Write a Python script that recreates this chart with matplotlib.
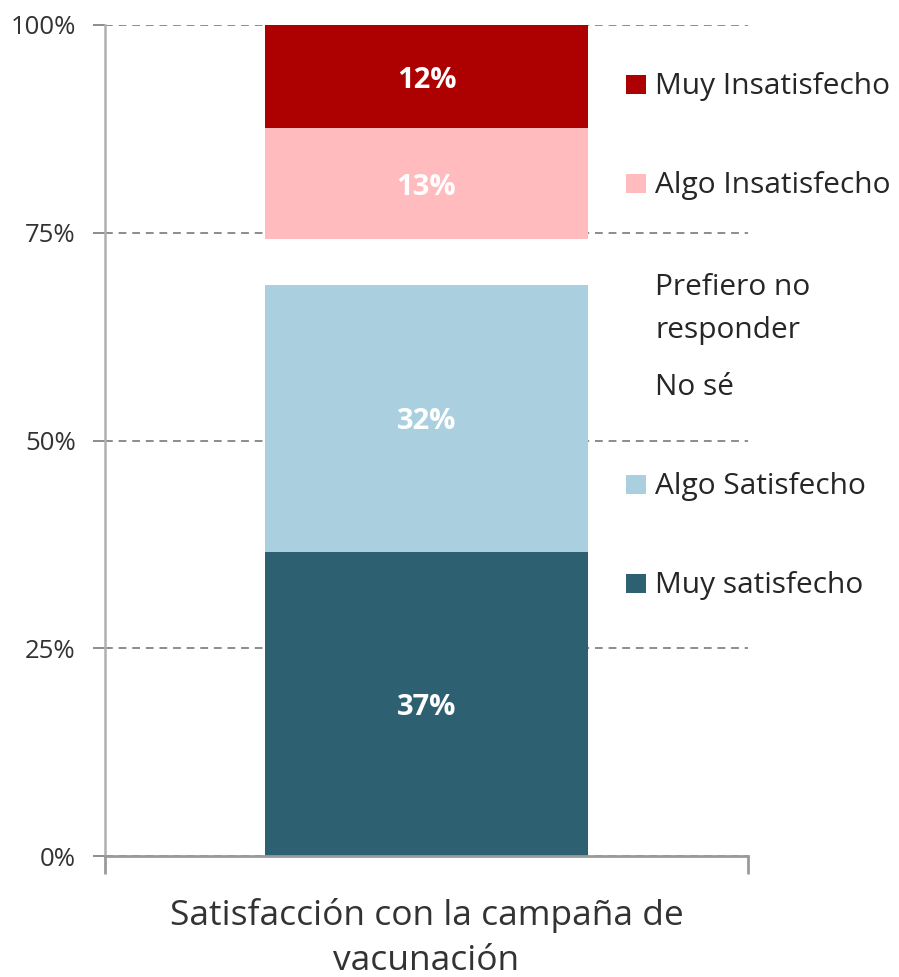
import matplotlib.pyplot as plt
from matplotlib.patches import Rectangle

plt.rcParams['font.family'] = ['Open Sans', 'DejaVu Sans']

# Encuesta: satisfacción con la campaña de vacunación (% de respuestas)
categoria = 'Satisfacción con la campaña de\nvacunación'
respuestas = ['Muy satisfecho', 'Algo Satisfecho', 'No sé', 'Prefiero no\nresponder',
              'Algo Insatisfecho', 'Muy Insatisfecho']
porcentajes = [36.6, 32.1, 3.1, 2.4, 13.4, 12.4]
colores = ['#2d6071', '#aacfdf', '#ffffff', '#ffffff', '#ffbbbd', '#ad0000']
mostrar_etiqueta = [True, True, False, False, True, True]

fig = plt.figure(figsize=(8.99, 9.77), dpi=100)
ax = fig.add_axes([105 / 899, 1 - 856 / 977, 643 / 899, 831 / 977])

base = 0
for resp, val, col, etiq in zip(respuestas, porcentajes, colores, mostrar_etiqueta):
    ax.bar(0, val, bottom=base, width=0.502, color=col, zorder=2)
    if etiq:
        ax.text(0, base + val / 2, f'{val:.0f}%', ha='center', va='center_baseline',
                color='white', fontsize=21, fontweight='bold', zorder=3)
    base += val

ax.set_xlim(-0.5, 0.5)
ax.set_ylim(0, 100)
ax.set_yticks([0, 25, 50, 75, 100], labels=['0%', '25%', '50%', '75%', '100%'])
ax.yaxis.grid(True, linestyle=(0, (4, 3)), color='#8c8c8c', linewidth=1.4, zorder=1)
ax.tick_params(axis='y', length=9, width=1.4, color='#8c8c8c', labelsize=18.5,
               labelcolor='#333333', pad=12)

# ticks del eje de categorías en los bordes, etiqueta centrada
ax.set_xticks([-0.5, 0.5], labels=['', ''])
ax.set_xticks([0], labels=[categoria], minor=True)
ax.tick_params(axis='x', which='major', length=13, width=2, color='#9a9a9a')
ax.tick_params(axis='x', which='minor', length=0, labelsize=25.5, labelcolor='#333333', pad=30)
for lbl in ax.get_xticklabels(minor=True):
    lbl.set_linespacing(1.45)

for s in ['top', 'right']:
    ax.spines[s].set_visible(False)
ax.spines['left'].set_color('#b0b0b0')
ax.spines['left'].set_linewidth(1.8)
ax.spines['bottom'].set_color('#9a9a9a')
ax.spines['bottom'].set_linewidth(2)

# leyenda a la derecha, de arriba hacia abajo (líneas base en píxeles)
baselines = {'Muy Insatisfecho': 94, 'Algo Insatisfecho': 193,
             'Prefiero no\nresponder': 295, 'No sé': 395,
             'Algo Satisfecho': 494, 'Muy satisfecho': 593}
for resp, col in zip(respuestas, colores):
    yb = baselines[resp]
    for i, linea in enumerate(resp.split('\n')):
        fig.text(655 / 899, 1 - (yb + 43 * i) / 977, linea, fontsize=21.5,
                 color='#262626', ha='left', va='baseline')
    fig.patches.append(Rectangle((626 / 899, 1 - yb / 977), 20 / 899, 19 / 977,
                                 transform=fig.transFigure, facecolor=col,
                                 edgecolor='none', figure=fig))

fig.savefig('out.png', dpi=100)
